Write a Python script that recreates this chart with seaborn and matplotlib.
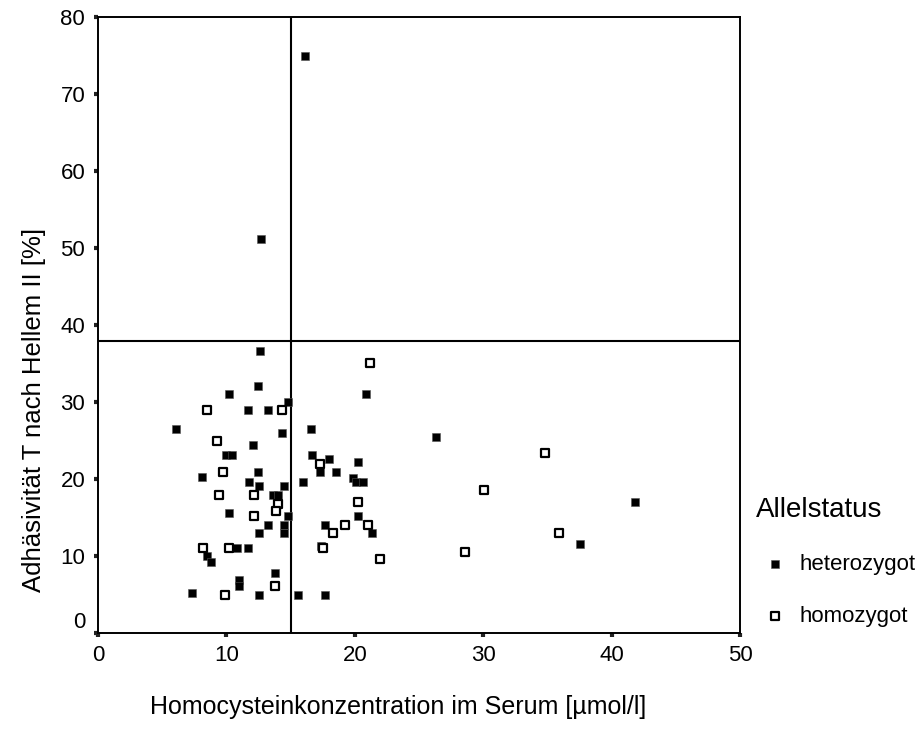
import matplotlib
matplotlib.use("Agg")
import matplotlib.pyplot as plt
import seaborn as sns
import pandas as pd

# ---- data ----
het_x = [16.1, 12.7, 12.6, 12.45, 10.2, 14.8, 11.65, 13.2, 6.05, 14.3, 12.1,
         10.0, 10.4, 8.1, 12.45, 11.75, 12.55, 14.5, 13.6, 14.0, 10.2, 14.8,
         13.2, 14.5, 12.55, 14.5, 10.8, 11.65, 8.5, 8.8, 13.75, 11.0, 11.0,
         7.35, 12.55, 15.6, 17.7, 20.9, 16.6, 16.7, 18.0, 20.25, 17.25, 18.5,
         15.95, 19.85, 20.1, 20.6, 20.25, 17.7, 21.35, 17.35, 26.3, 41.8, 37.5]
het_y = [75.0, 51.2, 36.6, 32.1, 31.1, 30.0, 29.0, 29.0, 26.5, 26.0, 24.5,
         23.1, 23.1, 20.3, 21.0, 19.7, 19.2, 19.2, 18.0, 18.0, 15.6, 15.2,
         14.1, 14.1, 13.0, 13.0, 11.1, 11.1, 10.1, 9.3, 7.9, 7.0, 6.1,
         5.3, 5.0, 5.0, 5.0, 31.1, 26.5, 23.1, 22.6, 22.2, 21.0, 21.0,
         19.6, 20.2, 19.7, 19.6, 15.2, 14.1, 13.0, 11.4, 25.5, 17.0, 11.6]

hom_x = [8.45, 14.35, 9.25, 9.75, 9.4, 12.15, 14.05, 13.85, 12.15, 8.15, 10.2,
         13.8, 9.9, 21.15, 17.25, 20.25, 19.25, 18.3, 21.0, 17.55, 21.95,
         34.8, 30.05, 35.9, 28.6]
hom_y = [29.0, 29.0, 25.0, 21.0, 18.0, 18.0, 16.8, 15.9, 15.2, 11.1, 11.1,
         6.1, 5.0, 35.1, 22.0, 17.0, 14.1, 13.0, 14.1, 11.1, 9.6,
         23.4, 18.6, 13.0, 10.6]

x_ticks = [0, 10, 20, 30, 40, 50]
y_ticks = [0, 10, 20, 30, 40, 50, 60, 70, 80]
cut_x = 15
cut_y = 38

labels = ["heterozygot", "homozygot"]
x_label = "Homocysteinkonzentration im Serum [µmol/l]"
y_label = "Adhäsivität T nach Hellem II [%]"
legend_title = "Allelstatus"

het = pd.DataFrame({"x": het_x, "y": het_y})
hom = pd.DataFrame({"x": hom_x, "y": hom_y})

sns.set_style("white")
plt.rcParams["font.family"] = ["Liberation Sans", "DejaVu Sans"]
plt.rcParams["text.color"] = "black"

fig = plt.figure(figsize=(9.17, 7.45), dpi=100)
ax = fig.add_axes([0.1069, 0.1497, 0.7001, 0.8275])

ax.axvline(cut_x, color="black", lw=1.5, zorder=1)
ax.axhline(cut_y, color="black", lw=1.5, zorder=1)

sns.scatterplot(data=het, x="x", y="y", ax=ax, marker="s", s=26,
                color="black", edgecolor="#555555", linewidth=0.4,
                label=labels[0], zorder=3)
sns.scatterplot(data=hom, x="x", y="y", ax=ax, marker="s", s=34,
                facecolor="white", edgecolor="black", linewidth=1.6,
                label=labels[1], zorder=3)

ax.set_xlim(0, 50)
ax.set_ylim(0, 80)
ax.set_xticks(x_ticks)
ax.set_yticks(y_ticks)
ax.set_xticklabels([str(t) for t in x_ticks])
ax.set_yticklabels([str(t) for t in y_ticks])

for sp in ax.spines.values():
    sp.set_visible(True)
    sp.set_color("black")
    sp.set_linewidth(1.4)

ax.tick_params(axis="both", which="major", bottom=True, left=True,
               direction="out", length=3.2, width=3.0,
               color="#222222", labelsize=16, labelcolor="black")
ax.tick_params(axis="x", pad=5)
ax.tick_params(axis="y", pad=6)
# the y "0" label sits slightly above its tick in the reference
ax.get_yticklabels()[0].set_verticalalignment("bottom")

ax.set_xlabel(x_label, fontsize=18, color="black", va="center")
ax.xaxis.set_label_coords(0.467, -0.119)
ax.set_ylabel(y_label, fontsize=18.5, color="black", va="center")
ax.yaxis.set_label_coords(-0.1, 0.362)

leg = ax.legend(title=legend_title, loc="upper left",
                bbox_to_anchor=(0.815, 0.345), bbox_transform=fig.transFigure,
                frameon=False, fontsize=16, title_fontsize=20,
                labelspacing=1.4, handletextpad=0.25, handlelength=1.7,
                borderaxespad=0)
leg._legend_box.align = "left"
for t in leg.get_texts():
    t.set_color("black")
leg.get_title().set_color("black")

fig.savefig("out.png", dpi=100)
